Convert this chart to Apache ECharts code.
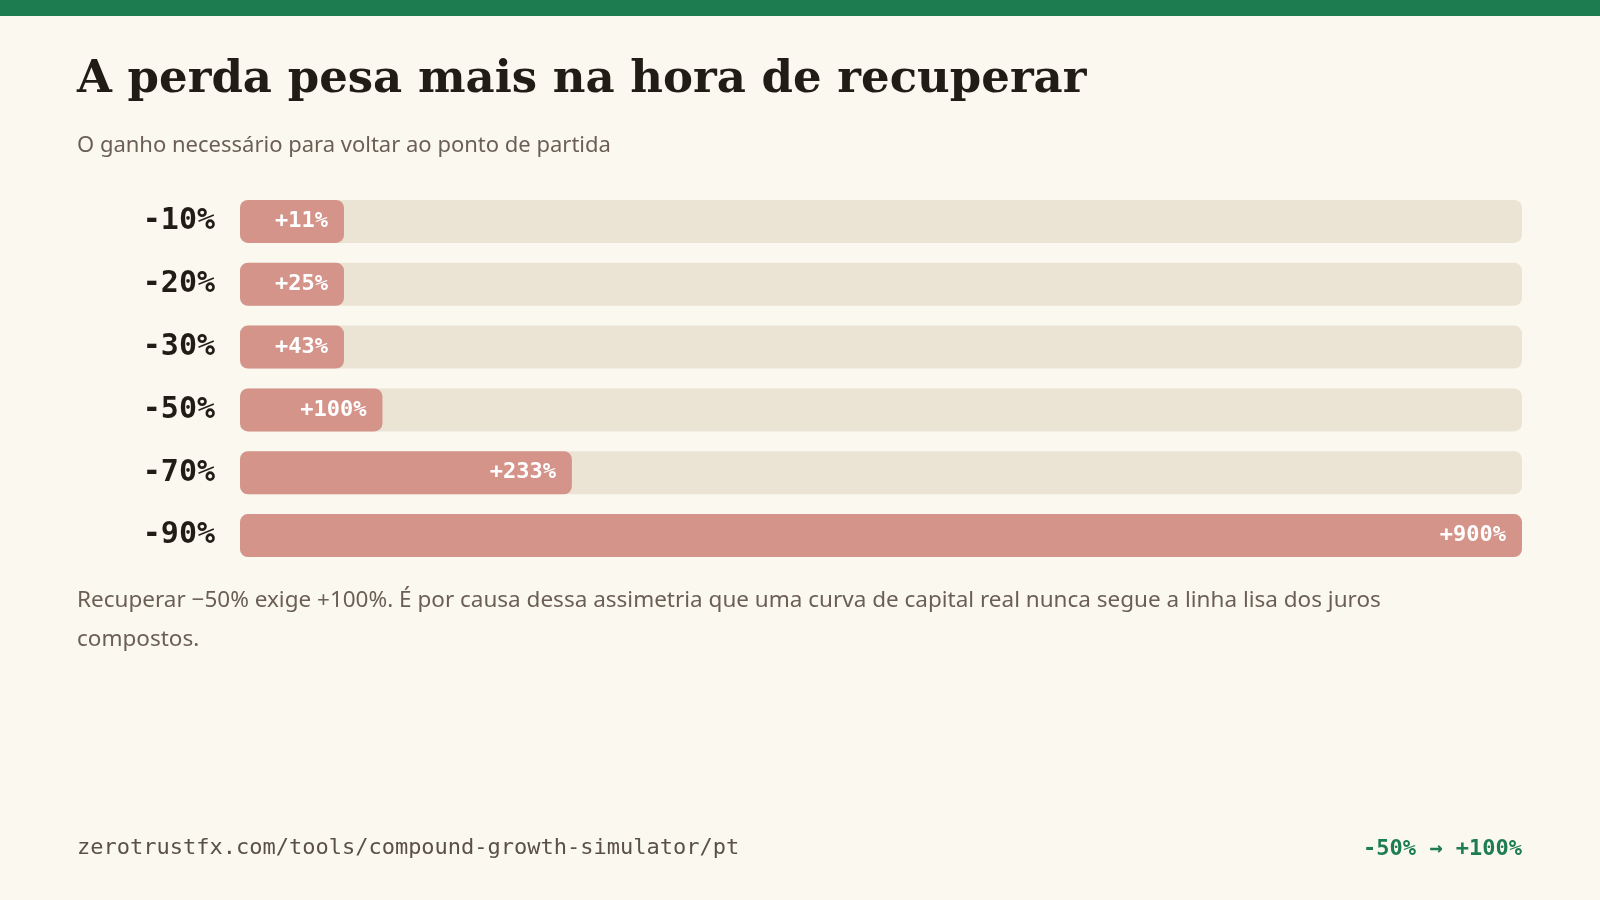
<!DOCTYPE html>
<html><head><meta charset="utf-8">
<script src="https://cdn.jsdelivr.net/npm/echarts@6/dist/echarts.min.js"></script>
<style>html,body{margin:0;padding:0;background:#fbf8f0}#c{width:1600px;height:900px}</style>
</head><body><div id="c"></div>
<script>
const categories = ['-10%','-20%','-30%','-50%','-70%','-90%'];
const gains = [11,25,43,100,233,900];
const gainLabels = ['+11%','+25%','+43%','+100%','+233%','+900%'];
const trackMax = 900;

const chart = echarts.init(document.getElementById('c'));
const mono = '"DejaVu Sans Mono", monospace';
chart.setOption({
  backgroundColor:'#fbf8f0',
  grid:{left:240,right:78,top:190,bottom:333,containLabel:false},
  xAxis:{type:'value',min:0,max:trackMax,show:false},
  yAxis:{type:'category',data:categories,inverse:true,axisLine:{show:false},axisTick:{show:false},
    axisLabel:{margin:25,color:'#221c17',fontFamily:mono,fontWeight:'bold',fontSize:30}},
  series:[
    {type:'bar',data:categories.map(()=>trackMax),barWidth:43,barGap:'-100%',silent:true,
     itemStyle:{color:'#ebe4d5',borderRadius:8},animation:false},
    {type:'bar',data:gains,barWidth:43,barMinHeight:104,animation:false,
     itemStyle:{color:'#d4948a',borderRadius:8},
     label:{show:true,position:'insideRight',distance:16,color:'#fff',fontFamily:mono,fontWeight:'bold',fontSize:22,
       formatter:p=>gainLabels[p.dataIndex]}}
  ],
  graphic:[
    {type:'rect',left:0,top:0,shape:{width:1600,height:16},style:{fill:'#1e7d50'}},
    {type:'text',left:77,top:58,style:{text:'A perda pesa mais na hora de recuperar',fill:'#221c17',font:'bold 45px "DejaVu Serif", serif'}},
    {type:'text',left:77,top:135,style:{text:'O ganho necessário para voltar ao ponto de partida',fill:'#6b5f55',font:'22px "Noto Sans", sans-serif'}},
    {type:'text',left:77,top:581,style:{text:'Recuperar −50% exige +100%. É por causa dessa assimetria que uma curva de capital real nunca segue a linha lisa dos juros\ncompostos.',fill:'#6b5f55',font:'22.5px "Noto Sans", sans-serif',lineHeight:39}},
    {type:'text',left:77,top:837,style:{text:'zerotrustfx.com/tools/compound-growth-simulator/pt',fill:'#5a5048',font:'22px "DejaVu Sans Mono", monospace'}},
    {type:'text',right:78,top:838,style:{text:'-50% → +100%',fill:'#1e7d50',font:'bold 22px "DejaVu Sans Mono", monospace'}}
  ]
});
</script></body></html>
